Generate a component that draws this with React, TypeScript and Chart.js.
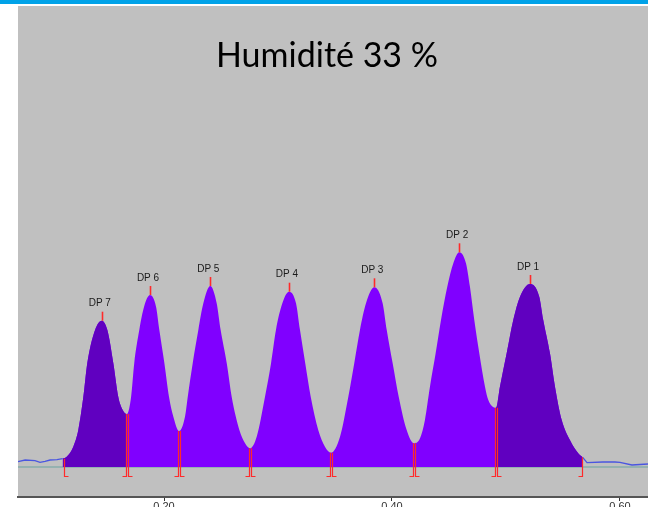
import { useEffect, useRef } from 'react';
import { Chart, registerables } from 'chart.js';

Chart.register(...registerables);

// Retention (min) and detector signal (mV above the integration baseline), one pair per DP peak
const dp7Time = [0.1111, 0.1146, 0.1204, 0.1248, 0.1292, 0.1327, 0.1395, 0.1454, 0.1503, 0.1555, 0.1599, 0.1638, 0.1673];
const dp7Signal = [8.3, 10.3, 20.3, 37, 70, 104, 137, 146.3, 137, 104, 70, 57, 53];

const dp6Time = [0.1675, 0.1711, 0.1739, 0.1783, 0.1825, 0.1877, 0.193, 0.1959, 0.2003, 0.2044, 0.2082, 0.2132];
const dp6Signal = [53, 70, 104, 137, 160.3, 172, 160.3, 137, 104, 70, 50.3, 36];

const dp5Time = [0.2132, 0.2184, 0.2208, 0.2252, 0.2301, 0.2345, 0.2406, 0.2462, 0.2497, 0.255, 0.2594, 0.2661, 0.2711, 0.2754];
const dp5Signal = [36, 50.3, 70, 104, 137, 163.7, 181, 163.7, 137, 104, 70, 37, 23.7, 18.7];

const dp4Time = [0.2754, 0.2813, 0.2886, 0.2939, 0.2982, 0.3038, 0.3096, 0.3158, 0.3193, 0.3239, 0.3287, 0.3353, 0.3412, 0.3465];
const dp4Signal = [18.7, 30.3, 70.3, 103.7, 137, 163.7, 175.3, 163.7, 137, 103.7, 70.3, 37, 20.3, 14.3];

const dp3Time = [0.3465, 0.3544, 0.3617, 0.3669, 0.3719, 0.3772, 0.3845, 0.3918, 0.3954, 0.4006, 0.4059, 0.4129, 0.4193];
const dp3Signal = [14.3, 30.3, 70.3, 103.7, 137, 163.7, 179.7, 163.7, 137, 103.7, 70.3, 37, 23.7];

const dp2Time = [0.4193, 0.4246, 0.4289, 0.4333, 0.4383, 0.443, 0.4485, 0.4538, 0.459, 0.4649, 0.4684, 0.4722, 0.4766, 0.4816, 0.4845, 0.4912];
const dp2Signal = [23.7, 28.7, 47, 80.3, 113.7, 147, 180.3, 203.7, 214.7, 203.7, 180.3, 147, 113.7, 80.3, 67, 59.3];

const dp1Time = [0.4912, 0.4947, 0.5006, 0.5064, 0.5123, 0.5211, 0.5292, 0.5327, 0.5386, 0.543, 0.5489, 0.5561, 0.5634, 0.5673];
const dp1Signal = [59.3, 80.3, 113.7, 147, 170.3, 183, 170.3, 147, 113.7, 80.3, 47, 27, 13.7, 9.7];

// Raw detector trace outside the integrated window
const leadTime = [0.0719, 0.0781, 0.0868, 0.0912, 0.0956, 0.1, 0.1061, 0.1111];
const leadSignal = [5.3, 7, 6.3, 4.7, 5.7, 7, 7.3, 8.3];
const tailTime = [0.5673, 0.5711, 0.5851, 0.5956, 0.6, 0.6105, 0.6246];
const tailSignal = [9.7, 4.3, 5, 5, 4.7, 2, 3];

// Peak apexes and their labels
const peakNames = ['DP 7', 'DP 6', 'DP 5', 'DP 4', 'DP 3', 'DP 2', 'DP 1'];
const peakTimes = [0.1454, 0.1877, 0.2406, 0.3096, 0.3845, 0.459, 0.5211];
const peakHeights = [146.3, 172, 181, 175.3, 179.7, 214.7, 183];

const xTickValues = [0.2, 0.4, 0.6];
const titleText = 'Humidité 33 %';

const peakTimeSets = [dp7Time, dp6Time, dp5Time, dp4Time, dp3Time, dp2Time, dp1Time];
const peakSignalSets = [dp7Signal, dp6Signal, dp5Signal, dp4Signal, dp3Signal, dp2Signal, dp1Signal];
// DP 7 and DP 1 are shaded darker than the middle peaks
const darkPeaks = [true, false, false, false, false, false, true];

const DARK_FILL = '#6000c0';
const BRIGHT_FILL = '#8000ff';
const CLEAR = 'rgba(0,0,0,0)';
const MARK_RED = '#ff2a2a';

const toPoints = (t: number[], s: number[]) => t.map((x, i) => ({ x, y: s[i] }));

// Join all peak windows into one continuous profile; remember which peak owns each point
function buildProfile() {
  const points: { x: number; y: number }[] = [];
  const owner: number[] = [];
  peakTimeSets.forEach((t, i) => {
    t.forEach((x, j) => {
      if (points.length && points[points.length - 1].x === x) {
        return;
      }
      points.push({ x, y: peakSignalSets[i][j] });
      owner.push(i);
    });
  });
  return { points, owner };
}

export default function App() {
  const canvasRef = useRef<HTMLCanvasElement>(null);

  useEffect(() => {
    if (!canvasRef.current) return;

    const { points, owner } = buildProfile();
    // a span is dark when both of its ends belong to a dark peak
    const spanIsDark = (a: number, b: number) => {
      if (darkPeaks[owner[b]] && darkPeaks[owner[a]]) return true;
      // DP 1 starts on the last DP 2 point
      return owner[b] === peakTimeSets.length - 1 && points[a].x === dp1Time[0];
    };

    const traceStyle = {
      borderColor: '#4a56e0',
      borderWidth: 1.3,
      pointRadius: 0,
      tension: 0,
      fill: false,
      order: 1,
    };

    const backdrop = {
      id: 'backdrop',
      beforeDraw(chart: any) {
        const { ctx, chartArea, width } = chart;
        ctx.save();
        ctx.fillStyle = '#ffffff';
        ctx.fillRect(0, 0, width, chart.height);
        ctx.fillStyle = '#00a2e8';
        ctx.fillRect(0, 0, width, 4);
        ctx.fillStyle = '#c0c0c0';
        ctx.fillRect(chartArea.left, chartArea.top, chartArea.right - chartArea.left, chartArea.bottom - chartArea.top);
        ctx.restore();
      },
    };

    const markers = {
      id: 'markers',
      afterDatasetsDraw(chart: any) {
        const { ctx } = chart;
        const xs = chart.scales.x;
        const ys = chart.scales.y;
        const foot = Math.round(ys.getPixelForValue(0)) + 9.5;
        ctx.save();
        ctx.strokeStyle = MARK_RED;
        ctx.lineWidth = 1.2;
        peakTimeSets.forEach((t, i) => {
          const s = peakSignalSets[i];
          const n = t.length - 1;
          // start of integration: vertical with foot to the right
          const sx = Math.round(xs.getPixelForValue(t[0])) + 1.5;
          ctx.beginPath();
          ctx.moveTo(sx, ys.getPixelForValue(s[0]));
          ctx.lineTo(sx, foot);
          ctx.lineTo(sx + 4, foot);
          ctx.stroke();
          // end of integration: vertical with foot to the left
          const ex = Math.round(xs.getPixelForValue(t[n])) - 0.5;
          ctx.beginPath();
          ctx.moveTo(ex, ys.getPixelForValue(s[n]));
          ctx.lineTo(ex, foot);
          ctx.lineTo(ex - 4, foot);
          ctx.stroke();
        });
        // apex ticks
        ctx.lineWidth = 1.6;
        peakTimes.forEach((tm, i) => {
          const px = Math.round(xs.getPixelForValue(tm)) + 0.5;
          const py = ys.getPixelForValue(peakHeights[i]);
          ctx.beginPath();
          ctx.moveTo(px, py);
          ctx.lineTo(px, py - 9);
          ctx.stroke();
        });
        ctx.fillStyle = '#1a1a1a';
        ctx.font = '10px "Liberation Sans", Arial, sans-serif';
        ctx.textAlign = 'center';
        ctx.textBaseline = 'middle';
        peakNames.forEach((name, i) => {
          const px = xs.getPixelForValue(peakTimes[i]);
          const py = ys.getPixelForValue(peakHeights[i]);
          ctx.fillText(name, px - 2, py - 17);
        });
        ctx.restore();
      },
    };

    const heading = {
      id: 'heading',
      afterDraw(chart: any) {
        const { ctx } = chart;
        ctx.save();
        ctx.fillStyle = '#000000';
        ctx.font = '34px Lato, "Open Sans", sans-serif';
        ctx.textAlign = 'center';
        ctx.textBaseline = 'alphabetic';
        ctx.fillText(titleText, 327, 67);
        ctx.restore();
      },
    };

    const chart = new Chart(canvasRef.current, {
      type: 'line',
      data: {
        datasets: [
          {
            label: 'baseline',
            data: [
              { x: leadTime[0], y: 0 },
              { x: tailTime[tailTime.length - 1], y: 0 },
            ],
            borderColor: '#6aa3a0',
            borderWidth: 1,
            pointRadius: 0,
            fill: false,
            order: 10,
          },
          {
            label: 'profile',
            data: points,
            borderWidth: 0,
            backgroundColor: BRIGHT_FILL,
            pointRadius: 0,
            cubicInterpolationMode: 'monotone',
            fill: 'origin',
            order: 6,
          },
          {
            label: 'outer peaks',
            data: points,
            borderWidth: 0,
            backgroundColor: CLEAR,
            pointRadius: 0,
            cubicInterpolationMode: 'monotone',
            fill: 'origin',
            order: 5,
            segment: {
              backgroundColor: (c: any) => (spanIsDark(c.p0DataIndex, c.p1DataIndex) ? DARK_FILL : CLEAR),
            },
          },
          { label: 'lead', data: toPoints(leadTime, leadSignal), ...traceStyle },
          { label: 'tail', data: toPoints(tailTime, tailSignal), ...traceStyle },
        ],
      },
      options: {
        animation: false,
        responsive: true,
        maintainAspectRatio: false,
        layout: { padding: { left: 18, top: 6, right: 0, bottom: 0 } },
        plugins: {
          legend: { display: false },
          tooltip: { enabled: false },
          title: { display: false },
        },
        scales: {
          x: {
            type: 'linear',
            min: 0.0719,
            max: 0.6246,
            afterBuildTicks: (s: any) => {
              s.ticks = xTickValues.map((v) => ({ value: v }));
            },
            afterFit: (s: any) => {
              s.height = 10;
            },
            border: { display: true, color: '#555555', width: 2 },
            grid: { drawOnChartArea: false, drawTicks: true, tickLength: 4, color: '#333333' },
            ticks: {
              autoSkip: false,
              maxRotation: 0,
              padding: -1,
              color: '#333333',
              font: { size: 11, family: '"Liberation Sans", Arial, sans-serif' },
              callback: (v: any) => Number(v).toFixed(2),
            },
          },
          y: {
            type: 'linear',
            display: false,
            min: -30,
            max: 461,
          },
        },
      },
      plugins: [backdrop, markers, heading],
    });

    return () => chart.destroy();
  }, []);

  return (
    <div style={{ position: 'fixed', left: 0, top: 0, width: 648, height: 507, background: '#ffffff' }}>
      <canvas ref={canvasRef} />
    </div>
  );
}
